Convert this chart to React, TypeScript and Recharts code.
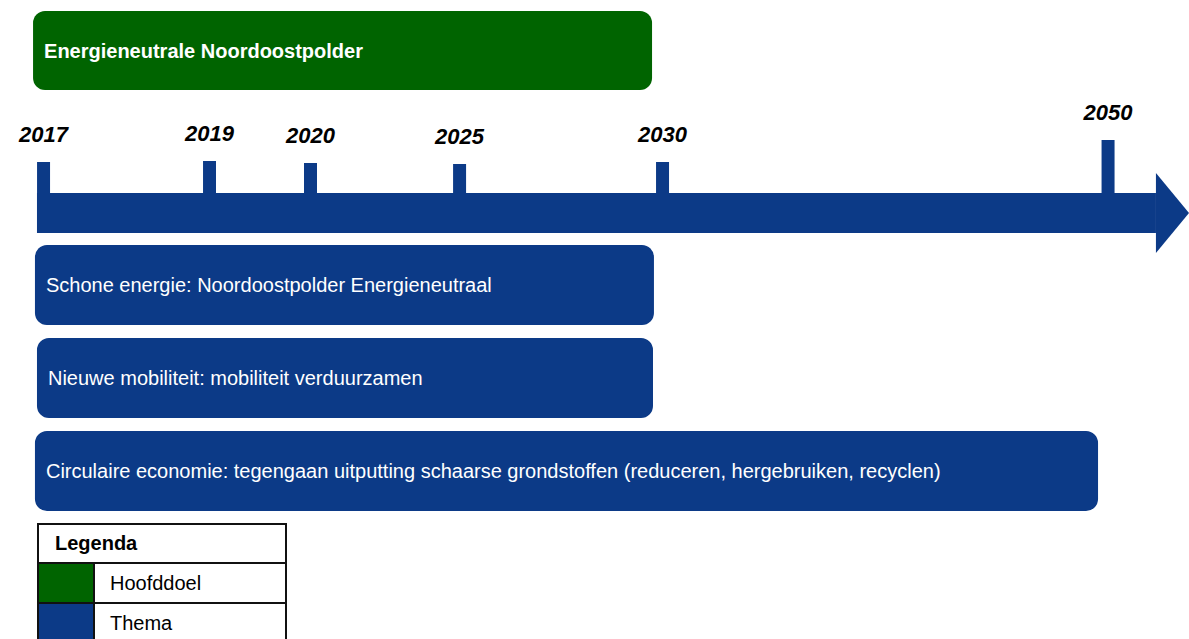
import React from 'react';
import {
  Bar,
  BarChart,
  ComposedChart,
  LabelList,
  Legend,
  ReferenceArea,
  XAxis,
  YAxis,
} from 'recharts';

const W = 1189;
const H = 639;
const BLUE = '#0c3a87';
const GREEN = '#006400';
const FONT = '"Liberation Sans", Arial, sans-serif';

// positions are in % of the slide width (x axis domain 0..100)
const milestoneYears = ['2017', '2019', '2020', '2025', '2030', '2050'];
const milestonePos = [3.66, 17.62, 26.11, 38.65, 55.72, 93.19];
const milestoneHeight = [31, 32, 30, 29, 31, 53];

const goalNames = ['Energieneutrale Noordoostpolder'];
const goalStart = [2.78];
const goalEnd = [54.84];

const themeNames = [
  'Schone energie: Noordoostpolder Energieneutraal',
  'Nieuwe mobiliteit: mobiliteit verduurzamen',
  'Circulaire economie: tegengaan uitputting schaarse grondstoffen (reduceren, hergebruiken, recyclen)',
];
const themeStart = [2.94, 3.11, 2.94];
const themeEnd = [55.0, 54.92, 92.35];

const legendLabels = ['Hoofddoel', 'Thema'];
const legendColors = [GREEN, BLUE];

// arrow: shaft + head, y in px above the shaft top
const arrowStart = 3.11;
const arrowHeadStart = 97.22;
const arrowEnd = 100;

const milestones = milestoneYears.map((year, i) => ({
  year,
  pos: milestonePos[i],
  height: milestoneHeight[i],
}));
const goals = goalNames.map((name, i) => ({ name, range: [goalStart[i], goalEnd[i]] }));
const themes = themeNames.map((name, i) => ({ name, range: [themeStart[i], themeEnd[i]] }));

const ArrowHead = (props: any) => {
  const { x, y, width, height } = props;
  return (
    <path
      d={`M${x},${y}L${x + width},${y + height / 2}L${x},${y + height}Z`}
      fill={BLUE}
    />
  );
};

const LegendTable = () => (
  <div
    style={{
      width: 250,
      border: '2px solid #111',
      boxSizing: 'border-box',
      background: '#fff',
      fontFamily: FONT,
      fontSize: 20,
      color: '#000',
    }}
  >
    <div style={{ height: 37, lineHeight: '37px', paddingLeft: 16, fontWeight: 'bold' }}>
      Legenda
    </div>
    {legendLabels.map((label, i) => (
      <div key={label} style={{ display: 'flex', height: 38, borderTop: '2px solid #111' }}>
        <div style={{ width: 54, background: legendColors[i], borderRight: '2px solid #111' }} />
        <div style={{ paddingLeft: 15, lineHeight: '38px' }}>{label}</div>
      </div>
    ))}
  </div>
);

const layer: React.CSSProperties = { position: 'absolute', left: 0, top: 0 };

const App = () => {
  return (
    <div
      style={{
        position: 'absolute',
        left: 0,
        top: 0,
        width: W,
        height: H,
        overflow: 'hidden',
        background: '#fff',
      }}
    >
      {/* hoofddoel */}
      <div style={layer}>
        <BarChart
          layout='vertical'
          width={W}
          height={100}
          data={goals}
          margin={{ top: 11, right: 0, bottom: 10, left: 0 }}
          barCategoryGap={0}
        >
          <XAxis type='number' domain={[0, 100]} hide />
          <YAxis type='category' dataKey='name' hide />
          <Bar dataKey='range' fill={GREEN} radius={12} isAnimationActive={false}>
            <LabelList
              dataKey='name'
              position='insideLeft'
              offset={11}
              fill='#fff'
              fontSize={20}
              fontWeight='bold'
              fontFamily={FONT}
            />
          </Bar>
        </BarChart>
      </div>

      {/* thema's + legenda */}
      <div style={layer}>
        <BarChart
          layout='vertical'
          width={W}
          height={H}
          data={themes}
          margin={{ top: 238, right: 0, bottom: 122, left: 0 }}
          barCategoryGap={0}
        >
          <XAxis type='number' domain={[0, 100]} hide />
          <YAxis type='category' dataKey='name' hide />
          <Bar dataKey='range' barSize={80} fill={BLUE} radius={12} isAnimationActive={false}>
            <LabelList
              dataKey='name'
              position='insideLeft'
              offset={11}
              fill='#fff'
              fontSize={20}
              fontFamily={FONT}
            />
          </Bar>
          <Legend
            layout='vertical'
            align='center'
            verticalAlign='middle'
            content={() => <LegendTable />}
            wrapperStyle={{ left: 37, top: 523, width: 250 }}
          />
        </BarChart>
      </div>

      {/* tijdlijn */}
      <div style={layer}>
        <ComposedChart
          width={W}
          height={H}
          data={milestones}
          margin={{ top: 0, right: 0, bottom: 0, left: 0 }}
        >
          <XAxis type='number' dataKey='pos' domain={[0, 100]} hide />
          <YAxis type='number' domain={[-446, 193]} hide />
          <ReferenceArea
            x1={arrowStart}
            x2={arrowHeadStart}
            y1={-40}
            y2={0}
            fill={BLUE}
            fillOpacity={1}
            stroke='none'
          />
          <ReferenceArea
            x1={arrowHeadStart}
            x2={arrowEnd}
            y1={-60}
            y2={20}
            shape={ArrowHead}
          />
          <Bar dataKey='height' barSize={13} fill={BLUE} isAnimationActive={false}>
            <LabelList
              dataKey='year'
              position='top'
              offset={20}
              fill='#000'
              fontSize={22}
              fontWeight='bold'
              fontStyle='italic'
              fontFamily={FONT}
            />
          </Bar>
        </ComposedChart>
      </div>
    </div>
  );
};

export default App;
